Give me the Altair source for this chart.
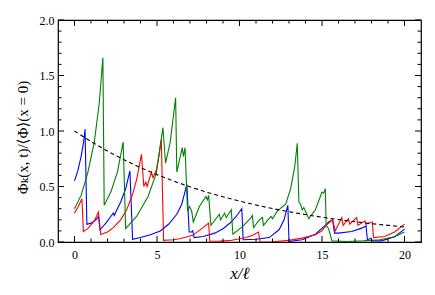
import altair as alt
import pandas as pd

# ---- data ----
blue_x = [0.0, 0.2, 0.4, 0.55, 0.64, 0.75, 1.0, 1.3, 1.45, 1.55, 1.9, 2.2, 2.35, 2.42, 2.5, 2.8, 3.1, 3.36,
          3.52, 4.0, 4.6, 5.2, 5.7, 6.2, 6.5, 6.81, 6.95, 7.1, 7.17, 7.25, 7.8, 8.5, 9.0, 9.5, 9.9, 10.14,
          10.22, 11.0, 11.8, 12.4, 12.7, 12.93, 13.0, 13.8, 14.6, 15.2, 15.4, 15.64, 15.76, 16.0, 16.8, 17.4,
          17.67, 17.75, 17.95, 18.05, 18.6, 19.4, 19.86, 20.0]
blue_y = [0.55, 0.64, 0.77, 0.90, 1.015, 0.16, 0.17, 0.20, 0.23, 0.11, 0.17, 0.23, 0.26, 0.24, 0.27, 0.36, 0.48, 0.64,
          0.025, 0.04, 0.065, 0.10, 0.16, 0.25, 0.34, 0.52, 0.09, 0.09, 0.10, 0.04, 0.05, 0.08, 0.12, 0.18, 0.25, 0.30,
          0.02, 0.025, 0.04, 0.11, 0.20, 0.33, 0.005, 0.02, 0.07, 0.15, 0.18, 0.20, 0.08, 0.08, 0.095, 0.125,
          0.145, 0.02, 0.033, 0.01, 0.01, 0.048, 0.10, 0.115]

red_x = [0.0, 0.2, 0.45, 0.54, 0.8, 1.2, 1.45, 1.59, 2.0, 2.35, 2.8, 3.16, 3.5, 3.76, 4.06, 4.2, 4.32, 4.4,
         4.66, 4.76, 4.96, 5.1, 5.26, 5.4, 6.0, 6.37, 7.17, 7.77, 8.13, 8.2, 8.8, 9.38, 10.4, 10.8, 11.15, 11.25,
         12.0, 13.0, 13.8, 14.6, 15.0, 15.2, 15.4, 15.64, 15.8, 16.2, 16.28, 16.6, 16.68, 17.1, 17.18, 17.6,
         17.65, 18.05, 18.12, 18.8, 19.4, 19.9, 20.0]
red_y = [0.26, 0.31, 0.39, 0.095, 0.12, 0.19, 0.27, 0.068, 0.09, 0.13, 0.20, 0.29, 0.42, 0.56, 0.79, 0.50, 0.54, 0.50,
         0.63, 0.58, 0.65, 0.76, 0.92, 0.015, 0.02, 0.03, 0.06, 0.127, 0.17, 0.007, 0.008, 0.012, 0.04, 0.06, 0.09, 0.0,
         0.002, 0.015, 0.035, 0.065, 0.10, 0.14, 0.17, 0.20, 0.10, 0.22, 0.15, 0.21, 0.16, 0.22, 0.15, 0.19,
         0.16, 0.18, 0.04, 0.05, 0.09, 0.15, 0.16]

green_x = [0.0, 0.4, 0.8, 1.2, 1.5, 1.72, 1.8, 2.2, 2.6, 2.95, 3.1, 3.76, 4.46, 4.96, 5.16, 5.36, 5.52, 5.8,
           6.13, 6.2, 6.53, 6.6, 6.7, 6.85, 6.97, 7.1, 7.2, 7.57, 7.97, 8.05, 8.13, 8.27, 8.78, 8.85, 9.1, 9.2,
           9.5, 9.6, 10.2, 10.7, 10.78, 10.85, 11.2, 11.39, 11.45, 11.9, 12.0, 12.3, 12.8, 13.1, 13.35, 13.5,
           13.6, 13.7, 13.8, 13.9, 14.2, 14.6, 15.0, 15.1, 15.2, 15.25, 15.4, 15.6, 16.5, 17.5, 18.5, 19.4,
           19.86, 20.0]
green_y = [0.30, 0.42, 0.62, 0.90, 1.25, 1.66, 0.33, 0.45, 0.63, 0.90, 0.12, 0.23, 0.41, 0.62, 0.83, 1.03, 0.71, 0.90,
           1.30, 0.63, 0.85, 0.77, 0.85, 0.28, 0.32, 0.28, 0.18, 0.32, 0.41, 0.38, 0.42, 0.15, 0.25, 0.20, 0.26, 0.22,
           0.29, 0.07, 0.14, 0.22, 0.24, 0.13, 0.20, 0.22, 0.15, 0.23, 0.21, 0.28, 0.34, 0.48, 0.68, 0.89,
           0.36, 0.34, 0.29, 0.31, 0.21, 0.29, 0.45, 0.44, 0.48, 0.15, 0.12, 0.01, 0.005, 0.01, 0.02, 0.048,
           0.08, 0.09]

dash_x = list(range(0, 21))
dash_y = [1.0, 0.905, 0.819, 0.741, 0.670, 0.607, 0.549, 0.497, 0.449, 0.407, 0.368, 0.333, 0.301,
          0.273, 0.247, 0.223, 0.202, 0.183, 0.165, 0.150, 0.135]

x_major = [0, 5, 10, 15, 20]
x_minor = [i for i in range(0, 21) if i % 5 != 0]
y_major = [0.0, 0.5, 1.0, 1.5, 2.0]
y_minor = [0.1, 0.2, 0.3, 0.4, 0.6, 0.7, 0.8, 0.9, 1.1, 1.2, 1.3, 1.4, 1.6, 1.7, 1.8, 1.9]

series_names = ["blue", "red", "green"]
series_colors = ["#0000ff", "#ff0000", "#008000"]

# ---- tables ----
rows = []
for name, xs_, ys_ in [("blue", blue_x, blue_y), ("red", red_x, red_y), ("green", green_x, green_y)]:
    for i, (a, b) in enumerate(zip(xs_, ys_)):
        rows.append({"series": name, "x": a, "y": b, "i": i})
df = pd.DataFrame(rows)
dfd = pd.DataFrame({"x": dash_x, "y": dash_y})

W, H = 363, 222
FONT = "Times New Roman, Liberation Serif, DejaVu Serif, serif"
xs = alt.Scale(domain=[-1, 21], nice=False, zero=False)
ys = alt.Scale(domain=[0, 2], nice=False, zero=False)

x_axis = alt.Axis(values=x_major, title="x/ℓ", titleFontStyle="italic", labelPadding=7,
                  titlePadding=5, titleFontSize=17)
y_axis = alt.Axis(values=y_major, format=".1f", title="Φ\u2096(x, t)/⟨Φ⟩(x = 0)",
                  labelPadding=4, titlePadding=9, titleFontSize=15, titleY=117)

lines = []
for name, col in zip(series_names, series_colors):
    lines.append(
        alt.Chart(df[df.series == name]).mark_line(strokeWidth=1.1, color=col, clip=True).encode(
            x=alt.X("x:Q", scale=xs, axis=x_axis),
            y=alt.Y("y:Q", scale=ys, axis=y_axis),
            order="i:Q",
        )
    )

dashed = alt.Chart(dfd).mark_line(color="black", strokeDash=[4, 3], strokeWidth=1.1).encode(
    x=alt.X("x:Q", scale=xs), y=alt.Y("y:Q", scale=ys)
)


def xticks(vals, length):
    d = pd.DataFrame({"x": vals})
    bottom = alt.Chart(d).mark_rule(color="black", strokeWidth=1).encode(
        x=alt.X("x:Q", scale=xs), y=alt.value(H), y2=alt.value(H - length))
    top = alt.Chart(d).mark_rule(color="black", strokeWidth=1).encode(
        x=alt.X("x:Q", scale=xs), y=alt.value(0), y2=alt.value(length))
    return [bottom, top]


def yticks(vals, length):
    d = pd.DataFrame({"y": vals})
    left = alt.Chart(d).mark_rule(color="black", strokeWidth=1).encode(
        y=alt.Y("y:Q", scale=ys), x=alt.value(0), x2=alt.value(length))
    right = alt.Chart(d).mark_rule(color="black", strokeWidth=1).encode(
        y=alt.Y("y:Q", scale=ys), x=alt.value(W), x2=alt.value(W - length))
    return [left, right]


ticks = xticks(x_major, 6) + xticks(x_minor, 3.5) + yticks(y_major, 6) + yticks(y_minor, 3.5)

chart = alt.layer(*lines, dashed, *ticks).properties(
    width=W, height=H,
    autosize=alt.AutoSizeParams(type="none"),
    padding={"left": 50, "top": 12, "right": 6, "bottom": 45},
).configure_view(
    stroke="black", strokeWidth=1.2
).configure_axis(
    grid=False, domain=False, ticks=False,
    labelFont=FONT, titleFont=FONT, labelFontSize=12,
    labelColor="black", titleColor="black", titleFontWeight="normal",
)

chart.save("out.html", embed_options={"renderer": "svg", "actions": False})
